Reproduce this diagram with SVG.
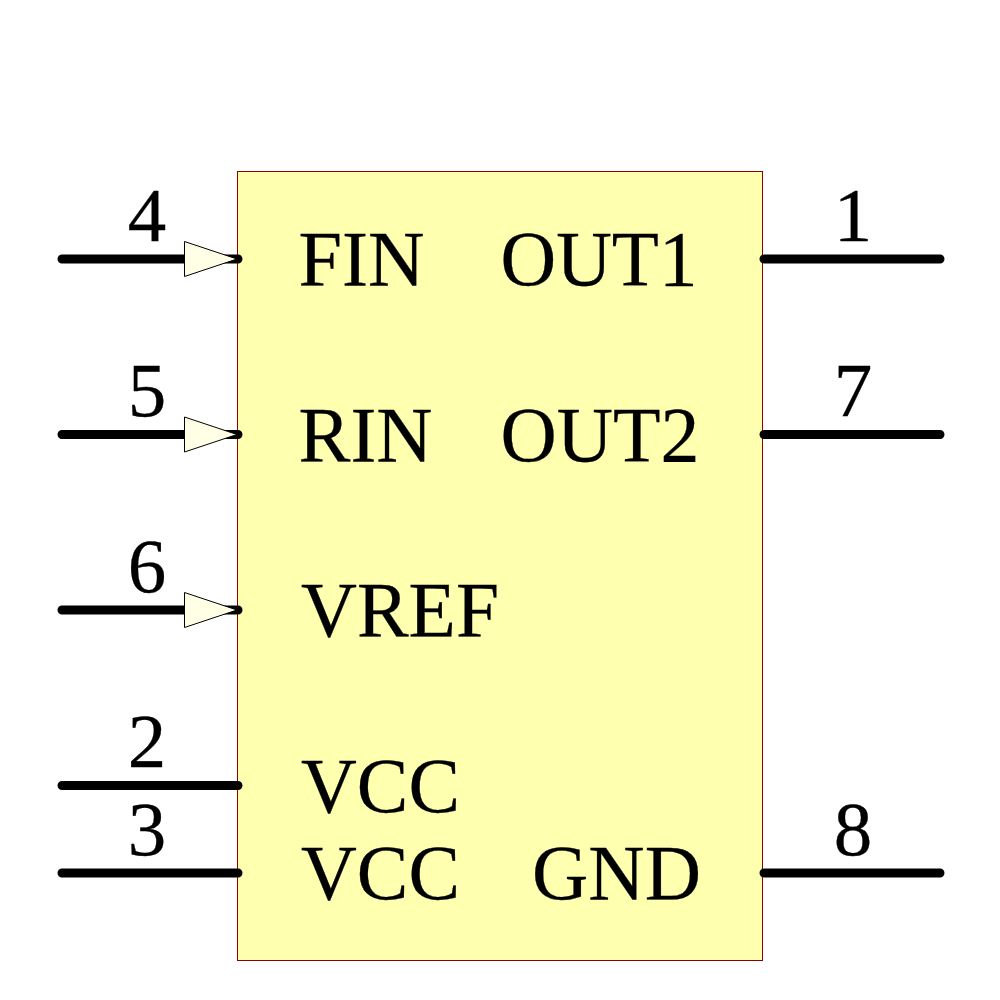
<svg xmlns="http://www.w3.org/2000/svg" width="1000" height="1000" viewBox="0 0 1000 1000">
<style>
text{font-family:"Liberation Serif","Times New Roman",serif;font-size:79px;fill:#000;stroke:#000;stroke-width:0.3}
.pin{stroke:#000;stroke-width:9;stroke-linecap:round;fill:none}
.tri{fill:#ffffe6;stroke:#000;stroke-width:1}
text.n{text-anchor:middle;font-size:77px}
</style>
<rect id="body" x="237.500" y="171.500" width="525" height="789" fill="#ffffb0" stroke="#8b0000" stroke-width="1"/>
<g id="connectors">
<path class="pin" d="M62 259H238M62 434.500H238M62 610H238M62 785.500H238M62 873H238M764 259H940M764 434.500H940M764 873H940"/>
<path class="tri" d="M184.500 241.500L237 259L184.500 276.500Z"/>
<path class="tri" d="M184.500 417L237 434.500L184.500 452Z"/>
<path class="tri" d="M184.500 592.500L237 610L184.500 627.500Z"/>
</g>
<g id="pin4"><text class="n" x="147" y="241">4</text><text x="298.500" y="285" textLength="126" lengthAdjust="spacingAndGlyphs">FIN</text></g>
<g id="pin5"><text class="n" x="147" y="416">5</text><text x="298.500" y="460.500" textLength="134" lengthAdjust="spacingAndGlyphs">RIN</text></g>
<g id="pin6"><text class="n" x="147" y="592">6</text><text x="301" y="636" textLength="198" lengthAdjust="spacingAndGlyphs">VREF</text></g>
<g id="pin2"><text class="n" x="147" y="767">2</text><text x="301" y="811.500" textLength="159" lengthAdjust="spacingAndGlyphs">VCC</text></g>
<g id="pin3"><text class="n" x="147" y="855">3</text><text x="301" y="899" textLength="159" lengthAdjust="spacingAndGlyphs">VCC</text></g>
<g id="pin1"><text class="n" x="853" y="241">1</text><text x="500.500" y="285" textLength="197" lengthAdjust="spacingAndGlyphs">OUT1</text></g>
<g id="pin7"><text class="n" x="853" y="416">7</text><text x="500.500" y="460.500" textLength="199" lengthAdjust="spacingAndGlyphs">OUT2</text></g>
<g id="pin8"><text class="n" x="853" y="855">8</text><text x="532" y="899" textLength="169" lengthAdjust="spacingAndGlyphs">GND</text></g>
</svg>
